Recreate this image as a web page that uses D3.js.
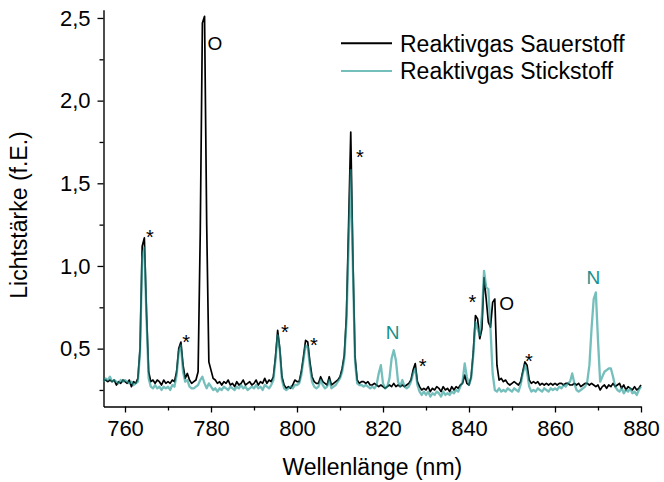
<!DOCTYPE html>
<html><head><meta charset="utf-8">
<script src="https://cdn.jsdelivr.net/npm/d3@7"></script>
<style>body{margin:0;background:#fff} text{font-family:"Liberation Sans",Arial,sans-serif}</style>
</head><body><svg id="c" width="664" height="482"></svg>
<script>
// sampling grid (nm), 0.5 nm step
const wavelengths = d3.range(755, 880.001, 0.5);
const seriesNames = ["Reaktivgas Sauerstoff", "Reaktivgas Stickstoff"];
const sauerstoff = [
0.31,0.31,0.30,0.31,0.30,0.31,0.28,0.30,0.29,0.31,
0.30,0.29,0.31,0.27,0.30,0.29,0.32,0.50,1.12,1.17,
0.72,0.36,0.30,0.31,0.29,0.31,0.30,0.28,0.31,0.29,
0.30,0.29,0.31,0.30,0.36,0.50,0.54,0.40,0.32,0.35,
0.31,0.29,0.30,0.31,0.36,1.20,2.47,2.51,1.25,0.42,
0.37,0.32,0.31,0.29,0.30,0.28,0.30,0.29,0.31,0.28,
0.29,0.27,0.30,0.28,0.29,0.31,0.28,0.29,0.30,0.28,
0.29,0.31,0.28,0.30,0.29,0.32,0.29,0.31,0.30,0.33,
0.45,0.61,0.50,0.33,0.28,0.26,0.27,0.26,0.28,0.31,
0.30,0.30,0.36,0.45,0.55,0.54,0.42,0.33,0.30,0.29,
0.29,0.33,0.30,0.29,0.28,0.33,0.28,0.29,0.30,0.31,
0.33,0.38,0.46,0.70,1.25,1.81,1.05,0.45,0.31,0.29,
0.30,0.30,0.29,0.30,0.28,0.28,0.29,0.28,0.27,0.28,
0.27,0.26,0.27,0.28,0.27,0.29,0.27,0.28,0.27,0.28,
0.27,0.28,0.29,0.31,0.37,0.41,0.30,0.27,0.25,0.26,
0.25,0.27,0.24,0.26,0.25,0.27,0.26,0.24,0.27,0.25,
0.26,0.24,0.27,0.25,0.27,0.26,0.28,0.29,0.34,0.29,
0.28,0.33,0.48,0.70,0.68,0.56,0.62,0.93,0.80,0.66,
0.63,0.78,0.80,0.40,0.31,0.32,0.30,0.31,0.29,0.28,
0.29,0.30,0.29,0.28,0.30,0.36,0.42,0.40,0.31,0.29,
0.30,0.29,0.30,0.28,0.29,0.28,0.29,0.28,0.29,0.28,
0.29,0.28,0.29,0.29,0.28,0.29,0.29,0.28,0.28,0.29,
0.28,0.29,0.27,0.28,0.29,0.29,0.28,0.29,0.28,0.27,
0.28,0.25,0.27,0.28,0.26,0.28,0.27,0.29,0.27,0.28,
0.29,0.26,0.28,0.25,0.27,0.26,0.25,0.27,0.25,0.26,
0.28];
const stickstoff = [
0.30,0.32,0.31,0.33,0.30,0.31,0.30,0.29,0.31,0.30,
0.31,0.30,0.29,0.30,0.28,0.29,0.30,0.48,1.05,1.11,
0.68,0.32,0.27,0.26,0.28,0.26,0.27,0.25,0.27,0.26,
0.27,0.25,0.28,0.27,0.34,0.48,0.52,0.36,0.30,0.31,
0.27,0.26,0.26,0.27,0.28,0.31,0.33,0.29,0.26,0.29,
0.27,0.25,0.26,0.24,0.26,0.25,0.27,0.26,0.25,0.27,
0.26,0.25,0.27,0.26,0.28,0.26,0.27,0.25,0.26,0.27,
0.26,0.28,0.26,0.27,0.25,0.28,0.27,0.26,0.28,0.31,
0.43,0.58,0.49,0.31,0.26,0.25,0.26,0.27,0.26,0.28,
0.28,0.29,0.34,0.43,0.52,0.51,0.39,0.30,0.27,0.26,
0.27,0.31,0.28,0.26,0.27,0.31,0.26,0.27,0.28,0.30,
0.32,0.36,0.44,0.66,1.12,1.58,0.98,0.42,0.29,0.28,
0.28,0.27,0.28,0.27,0.26,0.27,0.26,0.28,0.35,0.40,
0.29,0.26,0.27,0.32,0.44,0.49,0.43,0.30,0.27,0.31,
0.27,0.26,0.27,0.30,0.35,0.38,0.28,0.24,0.22,0.24,
0.22,0.24,0.21,0.23,0.22,0.24,0.23,0.21,0.24,0.22,
0.23,0.22,0.24,0.23,0.25,0.24,0.27,0.30,0.41,0.33,
0.28,0.32,0.46,0.66,0.62,0.58,0.70,0.97,0.87,0.86,
0.62,0.35,0.25,0.24,0.26,0.24,0.25,0.24,0.26,0.25,
0.24,0.26,0.25,0.24,0.28,0.35,0.40,0.36,0.27,0.24,
0.25,0.24,0.26,0.25,0.24,0.26,0.25,0.24,0.26,0.25,
0.26,0.25,0.27,0.26,0.28,0.27,0.29,0.30,0.35,0.29,
0.25,0.24,0.25,0.26,0.27,0.30,0.40,0.62,0.80,0.84,
0.55,0.30,0.33,0.36,0.37,0.38,0.38,0.33,0.27,0.25,
0.24,0.26,0.23,0.25,0.24,0.26,0.23,0.24,0.22,0.25,
0.27];
const xMajorTicks = [760, 780, 800, 820, 840, 860, 880];
const xMinorTicks = [770, 790, 810, 830, 850, 870];
const yMajorTicks = [0.5, 1.0, 1.5, 2.0, 2.5];
const yTickLabels = ["0,5", "1,0", "1,5", "2,0", "2,5"];
const yMinorTicks = [0.25, 0.75, 1.25, 1.75, 2.25];
const annotLabels = ["O", "*", "*", "*", "*", "*", "N", "*", "*", "O", "*", "N"];
const annotNm     = [780.9, 765.8, 774.2, 797.2, 803.95, 814.65, 822.26, 829.23, 840.77, 848.77, 853.95, 868.9];
const annotVal    = [2.347, 1.20, 0.57, 0.625, 0.55, 1.685, 0.60, 0.42, 0.81, 0.775, 0.455, 0.93];
const annotKind   = ["O", "star", "star", "star", "star", "star", "N", "star", "star", "O", "star", "N"];

const svg = d3.select("#c");
const x = d3.scaleLinear().domain([755, 880]).range([103.5, 641]);
const y = d3.scaleLinear().domain([0.15, 2.55]).range([406.5, 9.7]);

const colorO = "#000000";
const colorN = "rgb(30,150,145)";
const nOpacity = 0.62;

// axes
const gx = svg.append("g").attr("transform", "translate(0,406.5)");
gx.call(d3.axisBottom(x).tickValues(xMajorTicks).tickSize(6).tickSizeOuter(0).tickPadding(8).tickFormat(d3.format("d")));
const gxm = svg.append("g").attr("transform", "translate(0,406.5)");
gxm.call(d3.axisBottom(x).tickValues(xMinorTicks).tickSize(4).tickFormat(""));
gxm.select(".domain").remove();

const gy = svg.append("g").attr("transform", "translate(103.5,0)");
gy.call(d3.axisLeft(y).tickValues(yMajorTicks).tickSize(6).tickSizeOuter(0).tickPadding(7).tickFormat((d, i) => yTickLabels[i]));
const gym = svg.append("g").attr("transform", "translate(103.5,0)");
gym.call(d3.axisLeft(y).tickValues(yMinorTicks).tickSize(4).tickFormat(""));
gym.select(".domain").remove();

svg.selectAll(".domain").attr("stroke", "#000").attr("stroke-width", 1.4);
svg.selectAll(".tick line").attr("stroke", "#000").attr("stroke-width", 1.3);
svg.selectAll(".tick text").attr("font-size", 22).attr("fill", "#000")
  .attr("font-family", '"Liberation Sans", Arial, sans-serif');

// axis titles
svg.append("text").attr("x", 372.3).attr("y", 475).attr("text-anchor", "middle")
  .attr("font-size", 23).text("Wellenlänge (nm)");
svg.append("text").attr("transform", "translate(27,215) rotate(-90)").attr("text-anchor", "middle")
  .attr("font-size", 23).text("Lichtstärke (f.E.)");

// lines
const line = d3.line().x((d, i) => x(wavelengths[i])).y(d => y(d));
svg.append("path").datum(sauerstoff).attr("d", line).attr("fill", "none")
  .attr("stroke", colorO).attr("stroke-width", 1.7).attr("stroke-linejoin", "round");
svg.append("path").datum(stickstoff).attr("d", line).attr("fill", "none")
  .attr("stroke", colorN).attr("stroke-opacity", nOpacity).attr("stroke-width", 2.3).attr("stroke-linejoin", "round");

// legend
const legY = [43.3, 71];
const legColors = [colorO, colorN];
const legOp = [1, nOpacity];
seriesNames.forEach((name, i) => {
  svg.append("line").attr("x1", 341).attr("x2", 392).attr("y1", legY[i]).attr("y2", legY[i])
    .attr("stroke", legColors[i]).attr("stroke-opacity", legOp[i]).attr("stroke-width", 2);
  svg.append("text").attr("x", 400).attr("y", legY[i]).attr("dy", "0.36em")
    .attr("font-size", 23).attr("fill", "#000").text(name);
});

// annotations
annotLabels.forEach((t, i) => {
  const k = annotKind[i];
  const cx = x(annotNm[i]), cy = y(annotVal[i]);
  const fs = k === "star" ? 20 : 19;
  const off = k === "star" ? 0.575 * fs : 0.36 * fs;
  svg.append("text").attr("x", cx).attr("y", cy + off).attr("text-anchor", "middle")
    .attr("font-size", fs).attr("fill", k === "N" ? "#17908d" : "#000").text(t);
});
</script></body></html>
